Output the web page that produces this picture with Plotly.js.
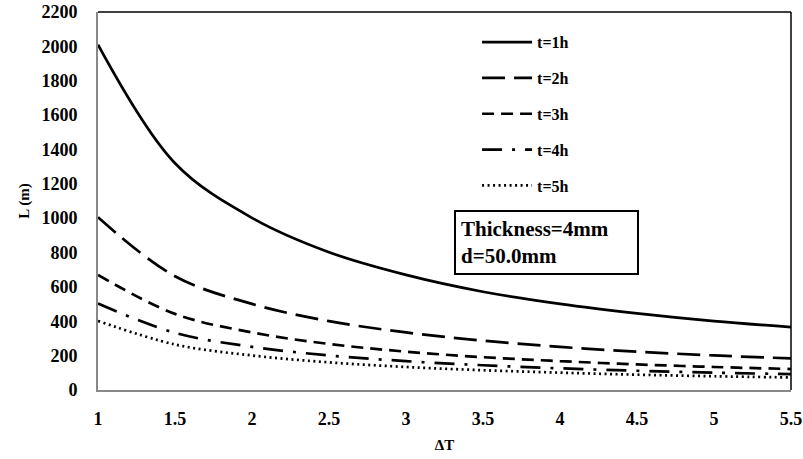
<!DOCTYPE html>
<html><head><meta charset="utf-8">
<script src="https://cdn.plot.ly/plotly-3.0.1.min.js"></script>
<style>body{margin:0;background:#fff}#c{width:803px;height:459px}</style>
</head><body><div id="c"></div>
<script>
var dT = [1, 1.5, 2, 2.5, 3, 3.5, 4, 4.5, 5, 5.5];
var t1 = [2010, 1320, 1002, 802, 670, 572, 501, 446, 401, 366];
var t2 = [1005, 662, 501, 401, 335, 287, 251, 223, 201, 184];
var t3 = [670, 443, 335, 268, 223, 191, 168, 149, 134, 122];
var t4 = [503, 333, 251, 201, 168, 144, 126, 112, 101, 92];
var t5 = [402, 265, 201, 161, 134, 115, 101, 89, 80, 73];
var names = ['t=1h', 't=2h', 't=3h', 't=4h', 't=5h'];
var series = [t1, t2, t3, t4, t5];
var dashes = ['solid', '23px,9px', '12px,7px', '20px,10px,3px,10px', '2px,3.5px'];
var font = 'Liberation Serif';
var traces = series.map(function (s, i) {
  return {x: dT, y: s, name: names[i], type: 'scatter', mode: 'lines', legendgroup: 'g' + i,
    line: {color: '#000', width: 2.7, dash: dashes[i], shape: 'spline', smoothing: 1}};
});
var layout = {
  width: 803, height: 459,
  margin: {l: 98, r: 12, t: 12, b: 69},
  paper_bgcolor: '#fff', plot_bgcolor: '#fff',
  font: {family: font, size: 16, color: '#000', weight: 'bold'},
  showlegend: true,
  legend: {x: 0.547, y: 0.965, xanchor: 'left', yanchor: 'top', bgcolor: 'rgba(0,0,0,0)',
    traceorder: 'grouped', tracegroupgap: 12, font: {family: font, size: 16, weight: 'bold'}, itemwidth: 50},
  xaxis: {range: [1, 5.5], tickvals: [1, 1.5, 2, 2.5, 3, 3.5, 4, 4.5, 5, 5.5],
    showgrid: false, zeroline: false, showline: true, linecolor: '#888', linewidth: 2,
    ticks: '', ticklabelstandoff: 11, tickfont: {family: font, size: 18, weight: 'bold'},
    title: {text: 'ΔT', font: {family: font, size: 15, weight: 'bold'}, standoff: 12}},
  yaxis: {range: [0, 2200], dtick: 200, showgrid: false, zeroline: false, showline: true,
    linecolor: '#888', linewidth: 2, ticks: '', ticklabelstandoff: 15,
    tickfont: {family: font, size: 18, weight: 'bold'},
    title: {text: 'L (m)', font: {family: font, size: 15, weight: 'bold'}, standoff: 8}},
  shapes: [
    {type: 'line', xref: 'paper', yref: 'paper', x0: 0, x1: 1, y0: 1, y1: 1, line: {color: '#000', width: 1.5}},
    {type: 'line', xref: 'paper', yref: 'paper', x0: 1, x1: 1, y0: 0, y1: 1, line: {color: '#000', width: 1.5}}
  ],
  annotations: [{xref: 'paper', yref: 'paper', x: 0.513, y: 0.476, xanchor: 'left', yanchor: 'top',
    text: 'Thickness=4mm<br>d=50.0mm', align: 'left', showarrow: false,
    font: {family: font, size: 21, weight: 'bold'}, bordercolor: '#000', borderwidth: 2,
    borderpad: 5, bgcolor: '#fff', width: 171}]
};
Plotly.newPlot('c', traces, layout, {displayModeBar: false});
</script></body></html>
